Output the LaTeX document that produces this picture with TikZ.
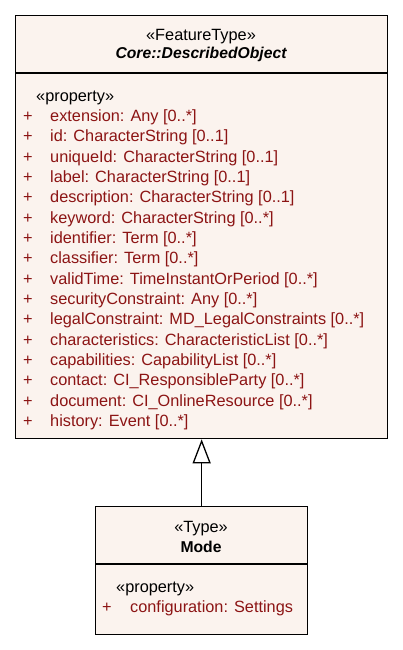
\documentclass[tikz,border=0pt]{standalone}
\usepackage{fontspec}
\setmainfont{Liberation Sans}
\usetikzlibrary{arrows.meta}
\definecolor{boxfill}{RGB}{251,243,238}
\definecolor{attr}{RGB}{140,20,20}
\tikzset{
  umlbox/.style={draw=black, line width=1.3pt, fill=boxfill, inner sep=0pt, rectangle},
  divider/.style={draw=black, line width=1.3pt},
  txt/.style={inner sep=0pt, anchor=base west, font=\fontsize{16.3}{19}\selectfont},
  ctxt/.style={inner sep=0pt, anchor=base, font=\fontsize{16.3}{19}\selectfont},
  attrtxt/.style={txt, text=attr},
  gen/.style={draw=black, line width=1.3pt, -{Triangle[open, length=24pt, width=18pt, fill=white, line width=1.3pt]}}
}
\begin{document}
\begin{tikzpicture}[x=1pt, y=-1pt]
\useasboundingbox (0,0) rectangle (403,650);
% top class
\node[umlbox, minimum width=372pt, minimum height=423pt, anchor=north west] (top) at (15,15) {};
\draw[divider] (15,73) -- (387,73);
\node[ctxt] (topst) at (201,41) {«FeatureType»};
\node[ctxt, font=\fontsize{15.7}{19}\selectfont\bfseries\itshape] (topname) at (201,58.5) {Core::DescribedObject};
\node[txt] (topprop) at (36,102) {«property»};
\foreach \i/\t in {0/{extension: Any [0..*]},1/{id: CharacterString [0..1]},2/{uniqueId: CharacterString [0..1]},3/{label: CharacterString [0..1]},4/{description: CharacterString [0..1]},5/{keyword: CharacterString [0..*]},6/{identifier: Term [0..*]},7/{classifier: Term [0..*]},8/{validTime: TimeInstantOrPeriod [0..*]},9/{securityConstraint: Any [0..*]},10/{legalConstraint: MD\_LegalConstraints [0..*]},11/{characteristics: CharacteristicList [0..*]},12/{capabilities: CapabilityList [0..*]},13/{contact: CI\_ResponsibleParty [0..*]},14/{document: CI\_OnlineResource [0..*]},15/{history: Event [0..*]}}{
  \node[attrtxt] (tp\i) at (23,121.5+20.33*\i) {+};
  \node[attrtxt] (ta\i) at (50,121.5+20.33*\i) {\t};
}
% bottom class
\node[umlbox, minimum width=212pt, minimum height=128pt, anchor=north west] (mode) at (95,506) {};
\draw[divider] (95,564) -- (307,564);
\node[ctxt] (modest) at (201,532.5) {«Type»};
\node[ctxt, font=\fontsize{15.7}{19}\selectfont\bfseries] (modename) at (201,552.5) {Mode};
\node[txt] (modeprop) at (116,592.5) {«property»};
\node[attrtxt] (mp0) at (102,612.5) {+};
\node[attrtxt] (ma0) at (130,612.5) {configuration: Settings};
% generalization
\draw[gen] (mode.north) -- (top.south);
\end{tikzpicture}
\end{document}
